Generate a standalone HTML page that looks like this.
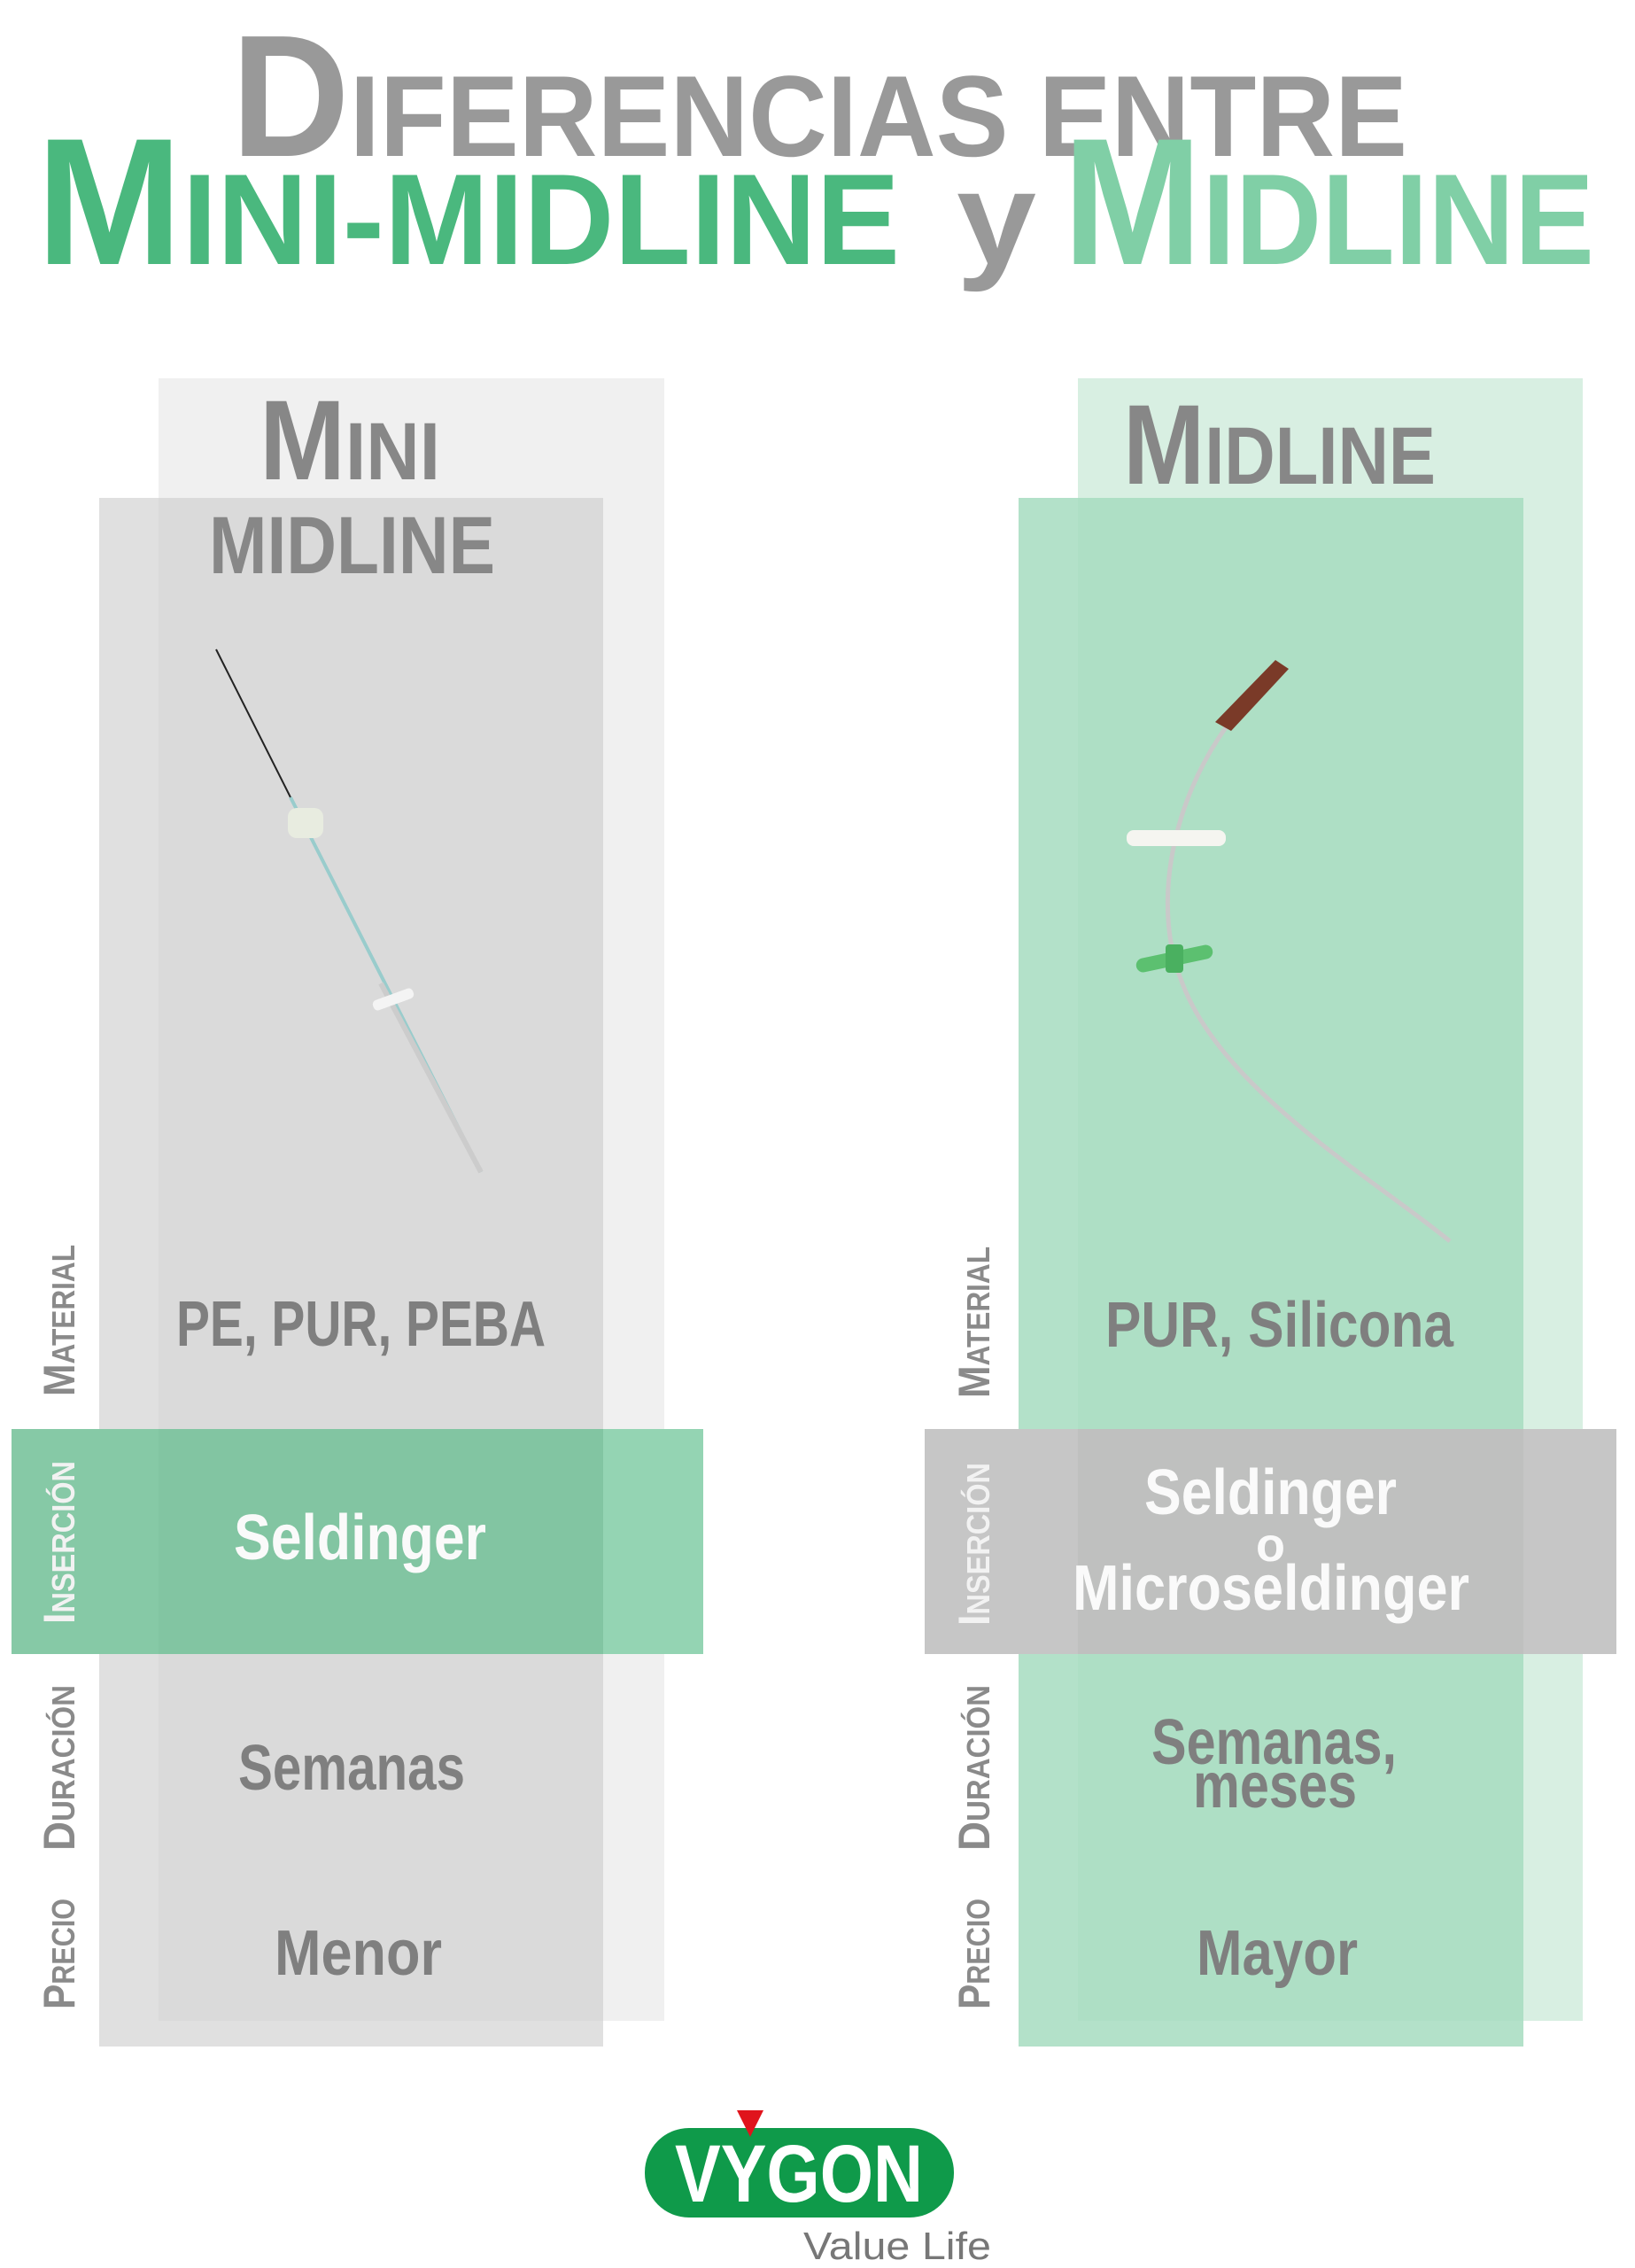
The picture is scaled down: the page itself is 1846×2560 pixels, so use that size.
<!DOCTYPE html>
<html><head><meta charset="utf-8"><style>
html,body{margin:0;padding:0;background:#fff}
svg{display:block}
text{font-family:"Liberation Sans",sans-serif;font-weight:bold}
</style></head><body>
<svg width="1846" height="2560" viewBox="0 0 1846 2560" xmlns="http://www.w3.org/2000/svg">
<rect width="1846" height="2560" fill="#fff"/>
<text x="261" y="176" fill="#999" font-size="130" textLength="1328" lengthAdjust="spacingAndGlyphs"><tspan font-size="196">D</tspan>IFERENCIAS ENTRE</text>
<text x="41" y="298" fill="#4ab87e" font-size="146" textLength="975" lengthAdjust="spacingAndGlyphs"><tspan font-size="204">M</tspan>INI-MIDLINE</text>
<text x="1080" y="298" fill="#999" font-size="150" textLength="90" lengthAdjust="spacingAndGlyphs">y</text>
<text x="1200" y="298" fill="#80cfa6" font-size="146" textLength="600" lengthAdjust="spacingAndGlyphs"><tspan font-size="204">M</tspan>IDLINE</text>

<rect x="179" y="427" width="571" height="1854" fill="#f0f0f0"/>
<rect x="112" y="562" width="569" height="1748" fill="#e0e0e0"/>
<rect x="179" y="562" width="502" height="1719" fill="#dadada"/>
<rect x="13" y="1613" width="781" height="254" fill="#94d4b3"/>
<rect x="13" y="1613" width="668" height="254" fill="#86c9a6"/>
<rect x="179" y="1613" width="502" height="254" fill="#82c5a2"/>

<rect x="1217" y="427" width="570" height="1854" fill="#d8efe2"/>
<rect x="1150" y="562" width="570" height="1748" fill="#b3e1c9"/>
<rect x="1217" y="562" width="503" height="1719" fill="#aedfc5"/>
<rect x="1044" y="1613" width="781" height="254" fill="#c6c6c6"/>
<rect x="1217" y="1613" width="503" height="254" fill="#bfc0bf"/>

<text x="293" y="541" fill="#878787" font-size="92" textLength="204" lengthAdjust="spacingAndGlyphs"><tspan font-size="128">M</tspan>INI</text>
<text x="236" y="647" fill="#878787" font-size="92" textLength="323" lengthAdjust="spacingAndGlyphs">MIDLINE</text>
<text x="1268" y="546" fill="#878787" font-size="92" textLength="353" lengthAdjust="spacingAndGlyphs"><tspan font-size="128">M</tspan>IDLINE</text>

<line x1="244" y1="733" x2="328" y2="900" stroke="#222" stroke-width="2"/>
<line x1="328" y1="900" x2="543" y2="1323" stroke="#9cc" stroke-width="4"/>
<line x1="430" y1="1110" x2="543" y2="1323" stroke="#ccc" stroke-width="6"/>
<rect x="325" y="912" width="40" height="34" rx="10" fill="#e8ece0"/>
<rect x="420" y="1122" width="48" height="12" rx="5" fill="#f4f4f4" transform="rotate(-20 444 1128)"/>

<path d="M1442 760 C1340 840 1290 1000 1335 1110 C1380 1230 1550 1330 1637 1401" fill="none" stroke="#c9c9c9" stroke-width="5"/>
<path d="M1372 815 L1440 745 L1455 755 L1390 825 Z" fill="#7a3a28"/>
<rect x="1272" y="937" width="112" height="18" rx="8" fill="#f5f5f0"/>
<rect x="1282" y="1074" width="88" height="16" rx="8" fill="#5cc070" transform="rotate(-12 1326 1082)"/>
<rect x="1316" y="1066" width="20" height="32" rx="4" fill="#4ab060"/>

<g fill="#8a8a8a" font-size="36">
<text transform="translate(84 1576) rotate(-90)" textLength="171" lengthAdjust="spacingAndGlyphs"><tspan font-size="50">M</tspan>ATERIAL</text>
<text transform="translate(84 2089) rotate(-90)" textLength="187" lengthAdjust="spacingAndGlyphs"><tspan font-size="50">D</tspan>URACIÓN</text>
<text transform="translate(84 2268) rotate(-90)" textLength="125" lengthAdjust="spacingAndGlyphs"><tspan font-size="50">P</tspan>RECIO</text>
<text transform="translate(1117 1578) rotate(-90)" textLength="171" lengthAdjust="spacingAndGlyphs"><tspan font-size="50">M</tspan>ATERIAL</text>
<text transform="translate(1117 2089) rotate(-90)" textLength="187" lengthAdjust="spacingAndGlyphs"><tspan font-size="50">D</tspan>URACIÓN</text>
<text transform="translate(1117 2268) rotate(-90)" textLength="125" lengthAdjust="spacingAndGlyphs"><tspan font-size="50">P</tspan>RECIO</text>
</g>
<g fill="#f2f2f2" font-size="36">
<text transform="translate(84 1833) rotate(-90)" textLength="184" lengthAdjust="spacingAndGlyphs"><tspan font-size="50">I</tspan>NSERCIÓN</text>
<text transform="translate(1117 1835) rotate(-90)" textLength="184" lengthAdjust="spacingAndGlyphs"><tspan font-size="50">I</tspan>NSERCIÓN</text>
</g>

<g fill="#7f7f7f" font-size="72">
<text x="199" y="1519" textLength="417" lengthAdjust="spacingAndGlyphs">PE, PUR, PEBA</text>
<text x="269" y="2020" textLength="256" lengthAdjust="spacingAndGlyphs">Semanas</text>
<text x="310" y="2229" textLength="189" lengthAdjust="spacingAndGlyphs">Menor</text>
<text x="1248" y="1520" textLength="393" lengthAdjust="spacingAndGlyphs">PUR, Silicona</text>
<text x="1300" y="1991" textLength="277" lengthAdjust="spacingAndGlyphs">Semanas,</text>
<text x="1347" y="2040" textLength="185" lengthAdjust="spacingAndGlyphs">meses</text>
<text x="1351" y="2229" textLength="182" lengthAdjust="spacingAndGlyphs">Mayor</text>
</g>
<g fill="#fafafa" font-size="72">
<text x="264" y="1760" textLength="285" lengthAdjust="spacingAndGlyphs">Seldinger</text>
<text x="1292" y="1709" textLength="285" lengthAdjust="spacingAndGlyphs">Seldinger</text>
<text x="1418" y="1762" font-size="54">o</text>
<text x="1211" y="1817" textLength="448" lengthAdjust="spacingAndGlyphs">Microseldinger</text>
</g>

<rect x="728" y="2402" width="349" height="101" rx="50" fill="#0f9a4a"/>
<text x="762" y="2485" fill="#fff" font-size="92" textLength="280" lengthAdjust="spacingAndGlyphs">VYGON</text>
<polygon points="832,2382 862,2382 847,2412" fill="#e0141c"/>
<text x="907" y="2550" fill="#777" font-size="44" textLength="212" lengthAdjust="spacingAndGlyphs" style="font-weight:normal">Value Life</text>
</svg>
</body></html>
